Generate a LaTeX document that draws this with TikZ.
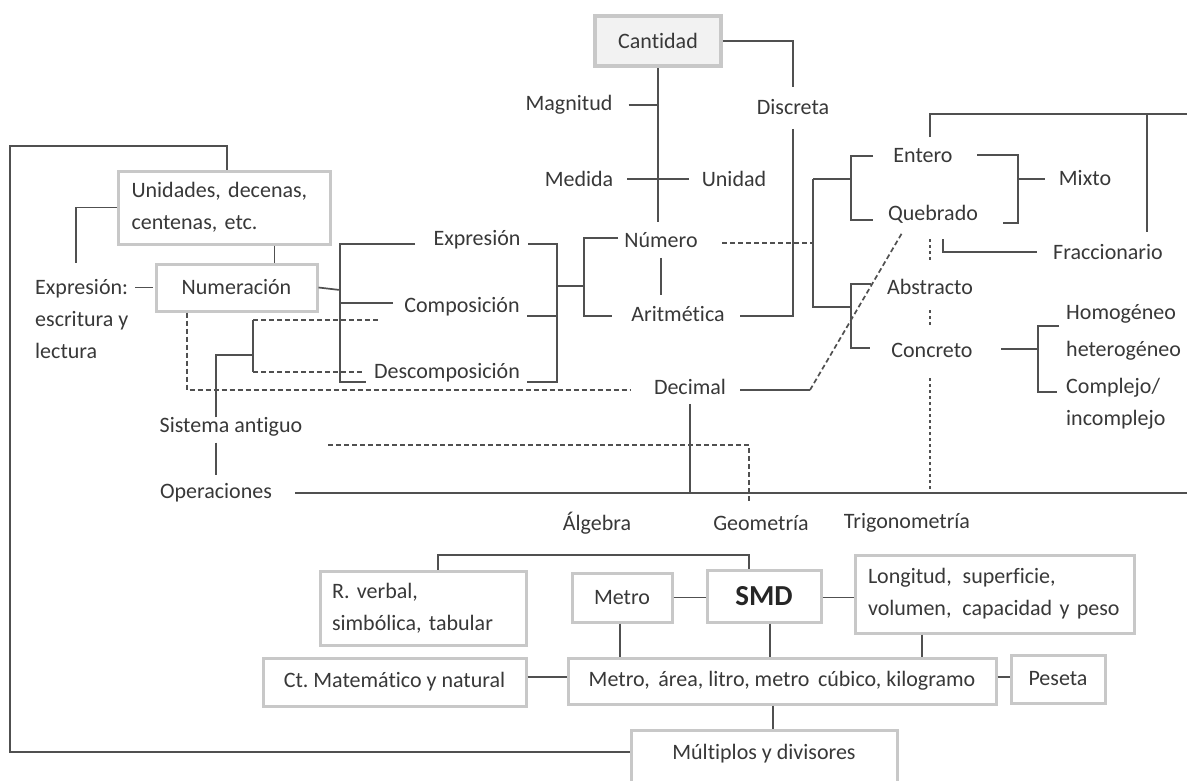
\documentclass[tikz,border=0pt]{standalone}
\usepackage{fontspec}
\setmainfont{Carlito}[Ligatures=CommonOff]
\usetikzlibrary{calc}
\definecolor{ink}{HTML}{383838}
\definecolor{linec}{HTML}{505050}
\definecolor{boxline}{HTML}{C8C8C8}
\definecolor{capfill}{HTML}{F2F2F2}

\begin{document}
\frenchspacing
\begin{tikzpicture}[x=1pt,y=-1pt,
  every node/.style={text=ink, font=\fontsize{22}{32}\selectfont, inner sep=3pt},
  gbox/.style={draw=boxline, line width=3pt, fill=white},
  conn/.style={draw=linec, line width=1.7pt},
  dline/.style={conn, dash pattern=on 5pt off 3pt},
  dotl/.style={conn, line width=1.5pt, dash pattern=on 3pt off 3pt}]
\useasboundingbox (0,0) rectangle (1187,780);

% ---------- upper part: quantity, number, numeration ----------
\node[gbox, fill=capfill, line width=4pt, minimum width=126, minimum height=50] (cant) at (658,41) {Cantidad};
\node (magn) at (569,105) {Magnitud};
\node (med) at (579,179) {Medida};
\node (unid) at (734,179) {Unidad};
\node (disc) at (793,107) {Discreta};
\node (num) at (661,240) {Número};
\node (arit) at (678,314) {Aritmética};
\node (expr) at (477,240) {Expresión};
\node (comp) at (462,307) {Composición};
\node (desc) at (447,373) {Descomposición};
\node (deci) at (690,387) {Decimal};

\node[gbox, minimum width=212, minimum height=73, text width=186, align=left] (unit) at (224.5,207.5) {Unidades, decenas,\\centenas, etc.};
\node[gbox, minimum width=161, minimum height=47] (numer) at (236.5,287.5) {Numeración};
\node[align=left, anchor=north west] (escr) at (32,276) {Expresión:\\escritura y\\lectura};
\node (sist) at (231,427) {Sistema antiguo};
\node (oper) at (216,493) {Operaciones};

% ---------- right part: kinds of number ----------
\node (ente) at (923,156) {Entero};
\node (queb) at (933,214) {Quebrado};
\node (mixt) at (1085,178) {Mixto};
\node (frac) at (1108,252) {Fraccionario};
\node (abst) at (930,287) {Abstracto};
\node (conc) at (932,350) {Concreto};
\node[align=left, anchor=west, font=\fontsize{22}{37}\selectfont] (homo) at (1063,332) {Homogéneo\\heterogéneo};
\node[align=left, anchor=west, font=\fontsize{22}{32}\selectfont] (cplx) at (1063,404) {Complejo/\\incomplejo};

% ---------- lower part: branches and decimal metric system ----------
\node (alg) at (597,523) {Álgebra};
\node (geom) at (761,523) {Geometría};
\node (trig) at (907,523) {Trigonometría};

\node[gbox, minimum width=206, minimum height=74, text width=182, align=left] (rverb) at (423,608) {R. verbal,\\simbólica, tabular};
\node[gbox, minimum width=100, minimum height=49] (metro) at (622,597.5) {Metro};
\node[gbox, minimum width=114, minimum height=52, font=\fontsize{29}{32}\selectfont\bfseries, text=black!85] (smd) at (764,596) {SMD};
\node[gbox, minimum width=279, minimum height=78, text width=254, align=left] (long) at (995,594) {Longitud,\, superficie,\\volumen,\, capacidad y peso};
\node[gbox, minimum width=263, minimum height=48] (ct) at (394.5,682) {Ct. Matemático y natural};
\node[gbox, minimum width=428, minimum height=46, inner xsep=2pt] (mare) at (782,681) {Metro,\, área, litro, metro\, cúbico, kilogramo};
\node[gbox, minimum width=94, minimum height=48] (pese) at (1058,679) {Peseta};
\node[gbox, minimum width=266, anchor=north, text height=15pt, text depth=50pt, inner ysep=14pt] (mult) at (764,729) {Múltiplos y divisores};

% ---------- junction points ----------
\coordinate (stemEnd) at (659,222);
\coordinate (aritR) at (740,316);
\coordinate (numTop) at (618,238);
\coordinate (nb) at (584,286);
\coordinate (numBot) at (612,316);
\coordinate (eb) at (557,286);
\coordinate (eTop) at (528,244);
\coordinate (cR) at (527,316);
\coordinate (dR) at (527,382);
\coordinate (lTop) at (415,244);
\coordinate (lBar) at (340,290);
\coordinate (lBot) at (366,382);
\coordinate (cL) at (393,303);
\coordinate (sTop) at (253,320);
\coordinate (sTopEnd) at (380,320);
\coordinate (sBot) at (253,372);
\coordinate (sBotEnd) at (363,372);
\coordinate (sJoin) at (216,355);
\coordinate (nDash) at (187,390);
\coordinate (dL) at (630,390);
\coordinate (dR2) at (740,390);
\coordinate (dKnee) at (810,390);
\coordinate (qFoot) at (902,233);
\coordinate (opR) at (1187,493);
\coordinate (opL) at (295,493);
\coordinate (saDash) at (328,445);
\coordinate (saKnee) at (749,445);
\coordinate (saEnd) at (749,502);
\coordinate (nDashR) at (722,243);
\coordinate (rb) at (813,243);
\coordinate (rTop) at (813,179);
\coordinate (rBot) at (813,307);
\coordinate (eqTop) at (873,156);
\coordinate (eqBar) at (851,179);
\coordinate (eqBot) at (873,220);
\coordinate (acTop) at (871,284);
\coordinate (acBar) at (851,307);
\coordinate (acBot) at (870,348);
\coordinate (mxTop) at (977,155);
\coordinate (mxBar) at (1018,179);
\coordinate (mxBot) at (1003,223);
\coordinate (mxEnd) at (1045,179);
\coordinate (frTop) at (943,239);
\coordinate (frEnd) at (1037,252);
\coordinate (ovStart) at (930,137);
\coordinate (ovTop) at (930,114);
\coordinate (ovRight) at (1187,114);
\coordinate (ovDrop) at (1147,114);
\coordinate (ovEnd) at (1147,232);
\coordinate (coStart) at (1001,349);
\coordinate (coBar) at (1038,349);
\coordinate (hoEnd) at (1059,326);
\coordinate (cxEnd) at (1057,392);
\coordinate (frameTop) at (10,146);
\coordinate (frameBot) at (10,752);
\coordinate (unL) at (76,263);
\coordinate (algTop) at (600,555);

% ---------- connectors: upper part ----------
\draw[conn] (cant.south) -- (cant.south |- stemEnd);
\draw[conn] ([xshift=13pt]magn.east) -- (magn.east -| cant.south);
\draw[conn] ([xshift=11pt]med.east) -- ([xshift=-10pt]unid.west);
\draw[conn] (cant.east) -| ([yshift=9pt]disc.north);
\draw[conn] ([yshift=-11pt]disc.south) |- (aritR);
\draw[conn] ([yshift=-7pt]num.south) -- ([yshift=8pt]arit.north -| num.south);
\draw[conn] (numTop) -| (nb) |- (numBot);
\draw[conn] (eb) -- (nb);
\draw[conn] (eTop) -| (eb) |- (dR);
\draw[conn] (cR) -- (cR -| eb);
\draw[conn] (lTop) -| (lBar) |- (lBot);
\draw[conn] (numer.east) -- (lBar);
\draw[conn] (cL) -- (cL -| lBar);
\draw[dline] (sTop) -- (sTopEnd);
\draw[conn] (sTop) -- (sBot);
\draw[dline] (sBot) -- (sBotEnd);
\draw[conn] ([yshift=-3pt]sist.north -| sJoin) -- (sJoin) -- (sJoin -| sTop);
\draw[dline] (numer.south -| nDash) -- (nDash) -- (dL);
\draw[conn] (dR2) -- (dKnee);
\draw[dline] (dKnee) -- (qFoot);
\draw[conn] ([yshift=-6pt]deci.south) -- (deci.south |- opR);
\draw[conn] ([yshift=-3pt]sist.south -| oper) -- ([yshift=5pt]oper.north);
\draw[conn] (opL) -- (opR);
\draw[dline] (saDash) -- (saKnee) -- (saEnd);
\draw[dline] (nDashR) -- (rb);

% frame round the numeration block
\draw[conn] (unit.north -| sJoin) ++(11pt,0) coordinate (unTop) -- (unTop |- frameTop) -- (frameTop) -- (frameBot) -- (mult.west |- frameBot);
\draw[conn] (unit.west) -| (unL);
\draw[conn] (unit.south -| numer.east) ++(-44pt,0) coordinate (unB) -- (unB |- numer.north);
\draw[conn] ([xshift=-2pt]numer.west) -- ++(-18pt,0);

% ---------- connectors: right part ----------
\draw[conn] (rTop) -- (rBot) -- (acBar);
\draw[conn] (rTop) -- (eqBar);
\draw[conn] (eqTop) -| (eqBar) |- (eqBot);
\draw[conn] (acTop) -| (acBar) |- (acBot);
\draw[conn] (mxTop) -| (mxBar) |- (mxBot);
\draw[conn] (mxBar) -- (mxEnd);
\draw[conn] (frTop) |- (frEnd);
\draw[dotl] (930,239) -- (930,262);
\draw[dotl] (930,310) -- (930,328);
\draw[dotl] (930,378) -- (930,493);
\draw[conn] (ovStart) -- (ovTop) -- (ovRight);
\draw[conn] (ovDrop) -- (ovEnd);
\draw[conn] (coStart) -- (coBar);
\draw[conn] (hoEnd) -| (coBar) |- (cxEnd);

% ---------- connectors: lower part ----------
\draw[conn] (rverb.north -| 438,0) |- (algTop) -| (smd.north -| saKnee);
\draw[conn] (metro.east) -- (smd.west |- metro.east);
\draw[conn] (smd.east |- metro.east) -- (long.west |- metro.east);
\draw[conn] (metro.south -| 620,0) -- (mare.north -| 620,0);
\draw[conn] (smd.south -| 770,0) -- (mare.north -| 770,0);
\draw[conn] (long.south -| 922,0) -- (mare.north -| 922,0);
\draw[conn] (ct.east |- 0,677) -- (mare.west |- 0,677);
\draw[conn] (mare.east |- 0,677) -- (pese.west |- 0,677);
\draw[conn] (mare.south -| 773,0) -- (mult.north -| 773,0);
\end{tikzpicture}
\end{document}
